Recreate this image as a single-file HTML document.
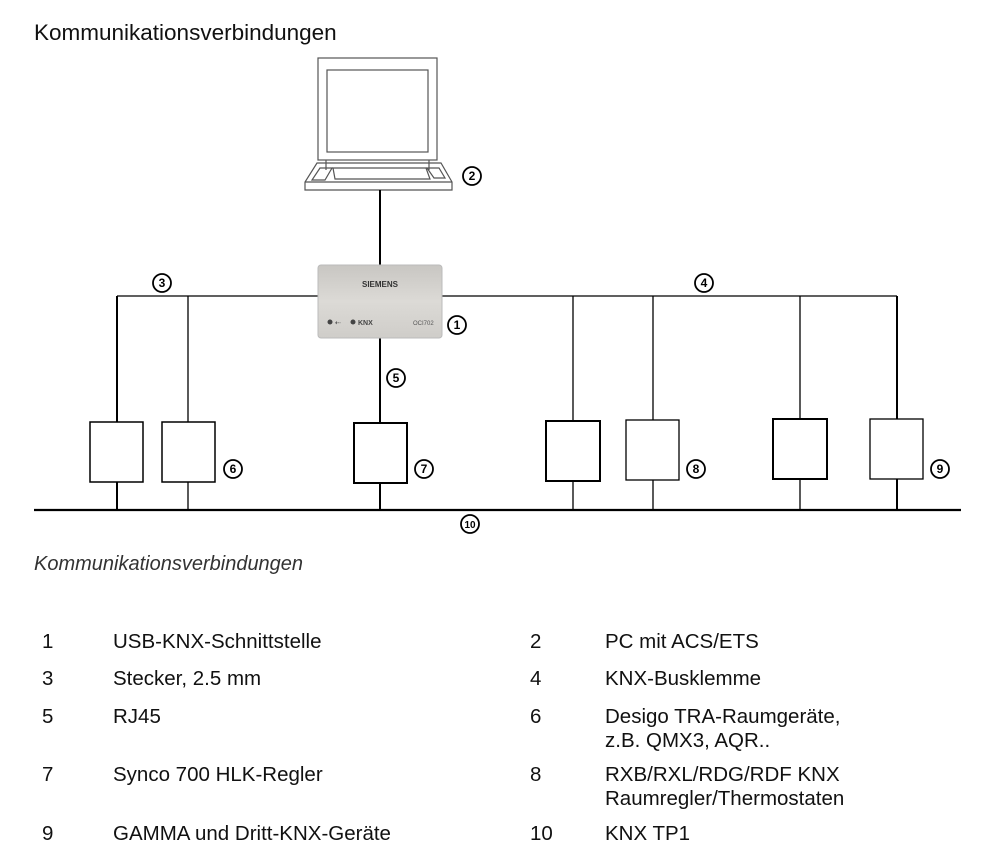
<!DOCTYPE html>
<html><head><meta charset="utf-8"><style>
body{margin:0;width:991px;height:863px;background:#fff;position:relative;font-family:"Liberation Sans",Arial,sans-serif;color:#111;overflow:hidden}
.t{position:absolute;font-size:20.5px;line-height:24px;white-space:nowrap}
</style></head><body>
<div class="t" style="left:34px;top:21px;font-size:22.5px;">Kommunikationsverbindungen</div>
<div class="t" style="left:34px;top:552px;font-size:20px;font-style:italic;color:#333">Kommunikationsverbindungen</div>
<svg width="991" height="863" style="position:absolute;left:0;top:0" xmlns="http://www.w3.org/2000/svg">
<defs><linearGradient id="g" x1="0" y1="0" x2="0" y2="1"><stop offset="0" stop-color="#c8c6c2"/><stop offset="0.5" stop-color="#dcdad6"/><stop offset="1" stop-color="#cfcdc9"/></linearGradient></defs>
<g fill="none" stroke="#555" stroke-width="1.2">
<rect x="318" y="58" width="119" height="102"/>
<rect x="327" y="70" width="101" height="82"/>
<path d="M326 160 V170 M429 160 V170"/>
<path d="M317 163 H441 L452 182 V190 H305 V182 Z"/>
<path d="M305 182 H452"/>
<path d="M320 168 H332 L325 180 H312 Z M427 168 H439 L445 178 H434 Z"/>
<path d="M333 168 H426 L430 179 H335 Z"/>
</g>
<g stroke="#000" fill="none">
<path d="M380 190 V265" stroke-width="2"/>
<path d="M117 296 H318 M442 296 H897" stroke-width="1.3"/>
<path d="M117 296 V422 M117 482 V510" stroke-width="2"/>
<path d="M188 296 V422 M188 482 V510" stroke-width="1.3"/>
<path d="M380 338 V422 M380 483 V510" stroke-width="2"/>
<path d="M573 296 V421 M573 481 V510" stroke-width="1.3"/>
<path d="M653 296 V420 M653 480 V510" stroke-width="1.3"/>
<path d="M800 296 V419 M800 479 V510" stroke-width="1.3"/>
<path d="M897 296 V419 M897 479 V510" stroke-width="2"/>
<path d="M34 510 H961" stroke-width="2.2"/>
<rect x="90" y="422" width="53" height="60" stroke-width="1.5"/>
<rect x="162" y="422" width="53" height="60" stroke-width="1.5"/>
<rect x="354" y="423" width="53" height="60" stroke-width="2"/>
<rect x="546" y="421" width="54" height="60" stroke-width="2"/>
<rect x="626" y="420" width="53" height="60" stroke-width="1.3"/>
<rect x="773" y="419" width="54" height="60" stroke-width="2"/>
<rect x="870" y="419" width="53" height="60" stroke-width="1.3"/>
</g>
<rect x="318" y="265" width="124" height="73" rx="3" fill="url(#g)" stroke="#bbb"/>
<text x="380" y="287" font-size="8" font-weight="bold" text-anchor="middle" fill="#333" font-family="Liberation Sans">SIEMENS</text>
<circle cx="330" cy="322" r="2.5" fill="#444"/><text x="335" y="325" font-size="7" fill="#444">⇠</text>
<circle cx="353" cy="322" r="2.5" fill="#444"/><text x="358" y="325" font-size="7" font-weight="bold" fill="#444">KNX</text>
<text x="413" y="325" font-size="6" fill="#555">OCI702</text>
<g fill="#fff" stroke="#000" stroke-width="1.8" font-size="11" font-family="Liberation Sans">
<circle cx="472" cy="176" r="9"/><circle cx="162" cy="283" r="9"/><circle cx="704" cy="283" r="9"/>
<circle cx="457" cy="325" r="9"/><circle cx="396" cy="378" r="9"/><circle cx="233" cy="469" r="9"/>
<circle cx="424" cy="469" r="9"/><circle cx="696" cy="469" r="9"/><circle cx="940" cy="469" r="9"/>
<circle cx="470" cy="524" r="9"/>
</g>
<g font-size="12" font-weight="bold" font-family="Liberation Sans" text-anchor="middle" fill="#000">
<text x="472" y="180">2</text><text x="162" y="287">3</text><text x="704" y="287">4</text>
<text x="457" y="329">1</text><text x="396" y="382">5</text><text x="233" y="473">6</text>
<text x="424" y="473">7</text><text x="696" y="473">8</text><text x="940" y="473">9</text>
<text x="470" y="528" font-size="10">10</text>
</g>
</svg>
<div class="t" style="left:42px;top:630px">1</div><div class="t" style="left:113px;top:630px">USB-KNX-Schnittstelle</div>
<div class="t" style="left:530px;top:630px">2</div><div class="t" style="left:605px;top:630px">PC mit ACS/ETS</div>
<div class="t" style="left:42px;top:667px">3</div><div class="t" style="left:113px;top:667px">Stecker, 2.5 mm</div>
<div class="t" style="left:530px;top:667px">4</div><div class="t" style="left:605px;top:667px">KNX-Busklemme</div>
<div class="t" style="left:42px;top:705px">5</div><div class="t" style="left:113px;top:705px">RJ45</div>
<div class="t" style="left:530px;top:705px">6</div><div class="t" style="left:605px;top:705px">Desigo TRA-Raumgeräte,<br>z.B. QMX3, AQR..</div>
<div class="t" style="left:42px;top:763px">7</div><div class="t" style="left:113px;top:763px">Synco 700 HLK-Regler</div>
<div class="t" style="left:530px;top:763px">8</div><div class="t" style="left:605px;top:763px">RXB/RXL/RDG/RDF KNX<br>Raumregler/Thermostaten</div>
<div class="t" style="left:42px;top:822px">9</div><div class="t" style="left:113px;top:822px">GAMMA und Dritt-KNX-Geräte</div>
<div class="t" style="left:530px;top:822px">10</div><div class="t" style="left:605px;top:822px">KNX TP1</div>
</body></html>
